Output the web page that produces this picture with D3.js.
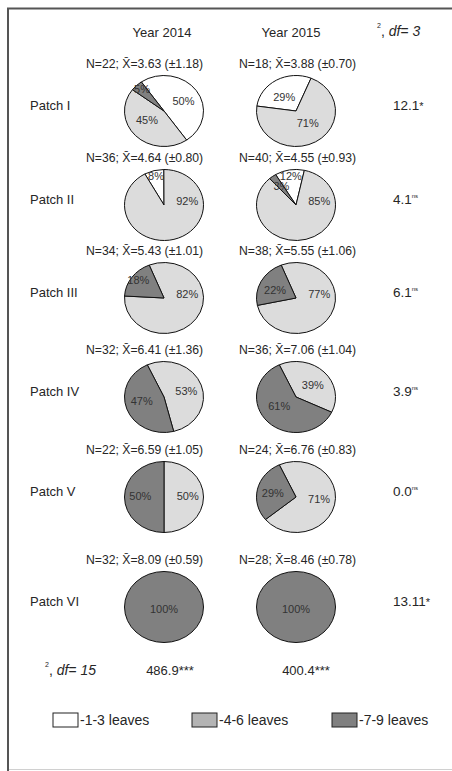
<!DOCTYPE html>
<html><head><meta charset="utf-8">
<script src="https://cdn.jsdelivr.net/npm/d3@7"></script>
<style>
html,body{margin:0;padding:0;background:#fff;}
svg{display:block;font-family:"Liberation Sans",Arial,sans-serif;}
</style></head>
<body>
<svg id="chart" width="452" height="771"></svg>
<script>
// ---- data ----
const patches = ["Patch I","Patch II","Patch III","Patch IV","Patch V","Patch VI"];
const years = ["Year 2014","Year 2015"];
const categories = ["-1-3 leaves","-4-6 leaves","-7-9 leaves"];
const n2014 = [22,36,34,32,22,32];
const mean2014 = ["3.63","4.64","5.43","6.41","6.59","8.09"];
const sd2014 = ["1.18","0.80","1.01","1.36","1.05","0.59"];
const n2015 = [18,40,38,36,24,28];
const mean2015 = ["3.88","4.55","5.55","7.06","6.76","8.46"];
const sd2015 = ["0.70","0.93","1.06","1.04","0.83","0.78"];
const leaves13_2014 = [50,8,0,0,0,0];
const leaves46_2014 = [45,92,82,53,50,0];
const leaves79_2014 = [5,0,18,47,50,100];
const leaves13_2015 = [29,12,0,0,0,0];
const leaves46_2015 = [71,85,77,39,71,0];
const leaves79_2015 = [0,3,22,61,29,100];
const chiValues = ["12.1","4.1","6.1","3.9","0.0","13.11"];
const chiMarks = ["*","ns","ns","ns","ns","*"];
const totalChi = ["486.9***","400.4***"];

// ---- layout / style ----
const rotation2014 = [-35,-29,-22,-25,0,0];
const rotation2015 = [-82,-31,-22,-25,-25,0];
const rowCenters = [111,205,298,397,497,607];
const colors = ["#ffffff","#dcdcdc","#808080"];
const legendColors = ["#ffffff","#b4b4b4","#808080"];
const rx = 39.5, ry = 35.5;
const textColor = "#262626";

const svg = d3.select("#chart");

// frame
svg.append("path").attr("d","M452,8.5 H8 V771")
  .attr("fill","none").attr("stroke","#555").attr("stroke-width",2);
svg.append("line").attr("x1",9).attr("x2",452).attr("y1",769.5).attr("y2",769.5)
  .attr("stroke","#d0d0d0").attr("stroke-width",1);

const x = d3.scaleOrdinal().domain(years).range([164,296]);
const yearTextX = d3.scaleOrdinal().domain(years).range([162,291]);
const nTextX = d3.scaleOrdinal().domain(years).range([86,239]);
const y = d3.scaleOrdinal().domain(patches).range(rowCenters);
const color = d3.scaleOrdinal().domain(categories).range(colors);

// header
years.forEach(yr => {
  svg.append("text").attr("x",yearTextX(yr)).attr("y",37).attr("text-anchor","middle")
    .attr("font-size",13).attr("fill",textColor).text(yr);
});
function chiHeader(xp, yp, df){
  const t = svg.append("text").attr("x",xp).attr("y",yp).attr("font-size",14).attr("fill",textColor);
  t.append("tspan").attr("font-size",7).attr("dy",-8).text("2");
  t.append("tspan").attr("dy",8).text(", ");
  t.append("tspan").attr("font-style","italic").text("df= " + df);
}
chiHeader(377,36,3);

const pie = d3.pie().sort(null).value(d => d.v);
const arc = d3.arc().innerRadius(0).outerRadius(rx);

const seriesByYear = {
  "Year 2014": {s:[leaves13_2014,leaves46_2014,leaves79_2014], n:n2014, m:mean2014, sd:sd2014, rot:rotation2014},
  "Year 2015": {s:[leaves13_2015,leaves46_2015,leaves79_2015], n:n2015, m:mean2015, sd:sd2015, rot:rotation2015}
};

patches.forEach((p,i) => {
  const cy = y(p);
  svg.append("text").attr("x",30).attr("y",cy-1).attr("font-size",13).attr("fill",textColor).text(p);
  const ct = svg.append("text").attr("x",393).attr("y",cy-1).attr("font-size",13.5).attr("fill",textColor).text(chiValues[i]);
  if (chiMarks[i] === "ns") ct.append("tspan").attr("font-size",6).attr("dy",-6).text("ns");
  else ct.append("tspan").attr("font-size",11).text(chiMarks[i]);

  years.forEach(yr => {
    const info = seriesByYear[yr];
    const cx = x(yr);
    svg.append("text").attr("x",nTextX(yr)).attr("y",cy-43).attr("font-size",12.2).attr("fill",textColor)
      .text(`N=${info.n[i]}; X\u0304=${info.m[i]} (\u00b1${info.sd[i]})`);
    const data = categories.map((c,k) => ({c, v: info.s[k][i]})).filter(d => d.v > 0);
    const rot = info.rot[i] * Math.PI/180;
    const arcs = pie.startAngle(rot).endAngle(rot + 2*Math.PI)(data);
    const g = svg.append("g").attr("transform",`translate(${cx},${cy}) scale(1,${ry/rx})`);
    g.selectAll("path").data(arcs).join("path")
      .attr("d",arc).attr("fill",d => color(d.data.c))
      .attr("stroke","#111").attr("stroke-width",1).attr("vector-effect","non-scaling-stroke");
    arcs.forEach(d => {
      const span = d.endAngle - d.startAngle;
      const frac = span / (2*Math.PI);
      let a = (d.startAngle + d.endAngle)/2;
      let kx = 0.6, ky = 0.42;
      if (frac < 0.04) { kx = 0.62; ky = 0.62; }
      else if (frac < 0.2) { kx = 0.8; ky = 0.8; }
      if (frac > 0.75 && frac < 0.999) a = Math.PI/2 - 0.2;
      let lx = Math.sin(a)*rx*kx, ly = -Math.cos(a)*ry*ky;
      if (frac >= 0.999) { lx = 0; ly = 3; }
      svg.append("text").attr("x",cx+lx).attr("y",cy+ly).attr("text-anchor","middle")
        .attr("dominant-baseline","middle").attr("font-size",11).attr("fill","#333")
        .text(d.data.v + "%");
    });
  });
});

// total chi row
chiHeader(45,675,15);
years.forEach((yr,j) => {
  svg.append("text").attr("x",[170,306][j]).attr("y",675).attr("text-anchor","middle")
    .attr("font-size",13).attr("fill",textColor).text(totalChi[j]);
});

// legend
const legX = [53,192,332];
categories.forEach((c,k) => {
  svg.append("rect").attr("x",legX[k]).attr("y",713).attr("width",25).attr("height",14)
    .attr("fill",legendColors[k]).attr("stroke","#222").attr("stroke-width",1);
  svg.append("text").attr("x",legX[k]+27).attr("y",725).attr("font-size",14).attr("fill",textColor).text(c);
});
</script>
</body></html>
